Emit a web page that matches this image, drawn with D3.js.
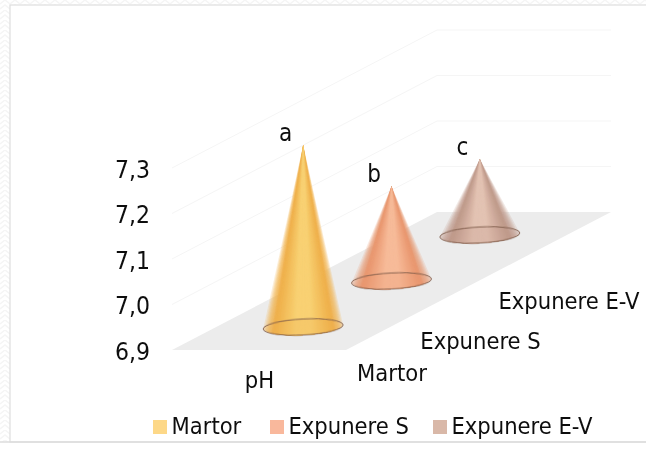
<!DOCTYPE html>
<html><head><meta charset="utf-8">
<script src="https://cdn.jsdelivr.net/npm/d3@7/dist/d3.min.js"></script>
<style>
html,body{margin:0;padding:0;background:#fff}
svg{display:block}
text{font-family:"DejaVu Sans Condensed","DejaVu Sans",sans-serif;fill:#111}
</style></head><body><svg id="c" width="646" height="455"></svg>
<script>
const categories = ["Martor","Expunere S","Expunere E-V"];
const values = [7.30,7.108,7.067];
const letters = ["a","b","c"];
const yTicks = [6.9,7.0,7.1,7.2,7.3];
const seriesLabel = "pH";
const centerColors = ["#f9d274","#f8bb9a","#e4c4b4"];
const sideColors = ["#efae48","#e8946c","#bd9788"];
const swatchColors = ["#fdd888","#f9b89c","#d9b8a8"];

const svg = d3.select("#c");
const W=646,H=455;
const loc = d3.formatLocale({decimal:",",thousands:".",grouping:[3],currency:["",""]});
const fmt = loc.format(".1f");

const defs = svg.append("defs");
const pat = defs.append("pattern").attr("id","zig").attr("width",10).attr("height",10).attr("patternUnits","userSpaceOnUse");
pat.append("path").attr("d","M0 4L5 0L10 4M0 9L5 5L10 9").attr("fill","none").attr("stroke","#f5f5f5").attr("stroke-width",1.5);
defs.append("filter").attr("id","soft").append("feGaussianBlur").attr("stdDeviation",0.45);
defs.append("filter").attr("id","soft2").append("feGaussianBlur").attr("stdDeviation",0.7);

// page frame
svg.append("rect").attr("width",W).attr("height",442).attr("fill","url(#zig)");
svg.append("rect").attr("x",10).attr("y",5).attr("width",W).attr("height",437).attr("fill","#fff").attr("stroke","#dedede").attr("stroke-width",1.2);
svg.append("line").attr("x1",0).attr("x2",W).attr("y1",442).attr("y2",442).attr("stroke","#dcdcdc").attr("stroke-width",1.4);

// 3D projection built from scales
const yScale = d3.scaleLinear().domain([6.9,7.3]).range([350,168]);
const depth = d3.scaleBand().domain(categories).range([0,1]);       // 0 front .. 1 back
const dx = d3.scaleLinear().domain([0,1]).range([0,265]);
const dy = d3.scaleLinear().domain([0,1]).range([0,-138]);
const frontX = d3.scaleLinear().domain([0,1]).range([172,346]);
const P=(u,t,v)=>[frontX(u)+dx(t), yScale(v)+dy(t)];
const line = d3.line();

const chart = svg.append("g");
// floor
chart.append("path").attr("d",line([P(0,0,6.9),P(1,0,6.9),P(1,1,6.9),P(0,1,6.9)])+"Z").attr("fill","#ececec").attr("filter","url(#soft)");
// gridlines
chart.selectAll("path.grid").data(yTicks.slice(1)).join("path").attr("class","grid")
  .attr("d",v=>line([P(0,0,v),P(0,1,v),P(1,1,v)])).attr("fill","none").attr("stroke","#f5f5f5").attr("stroke-width",1);

// cones
const rx=40, ry=8, tilt=-3;
categories.forEach((cat,i)=>{
  const t=depth(cat)+depth.bandwidth()/2;
  const [cx,cy]=P(0.5,t,6.9);
  const top=P(0.5,t,values[i]);
  const g=chart.append("g");
  const color=d3.scaleLinear().domain([0,0.22,0.8,1]).range([centerColors[i],centerColors[i],sideColors[i],sideColors[i]]).interpolate(d3.interpolateRgb);
  const tiltRad=tilt*Math.PI/180;
  const rim=s=>{
    const a=Math.acos(s);
    const ex=rx*Math.cos(a), ey=ry*Math.sin(a);
    return [cx+ex*Math.cos(tiltRad)-ey*Math.sin(tiltRad), cy+ex*Math.sin(tiltRad)+ey*Math.cos(tiltRad)];
  };
  const sl=g.append("g").attr("filter","url(#soft2)");
  const n=40;
  d3.range(n).forEach(k=>{
    const s=1-k/n;                       // outermost wedge first
    const pts=[top].concat(d3.range(0,13).map(j=>rim(-s+2*s*j/12)));
    sl.append("path").attr("d",line(pts)+"Z")
      .attr("fill",color(s))
      .attr("opacity",s>0.8?0.2:0.5);
  });
  g.append("ellipse").attr("cx",cx).attr("cy",cy).attr("rx",rx).attr("ry",ry)
    .attr("transform",`rotate(${tilt} ${cx} ${cy})`)
    .attr("fill",sideColors[i]).attr("fill-opacity",0.22)
    .attr("stroke","#7d5a48").attr("stroke-width",0.9).attr("filter","url(#soft)");
  g.append("text").attr("x",top[0]-17.5).attr("y",top[1]-4).attr("text-anchor","middle")
    .attr("font-size",24).attr("filter","url(#soft)").text(letters[i]);
});

const txt=svg.append("g").attr("filter","url(#soft)");
// y axis
const ax=d3.axisLeft(yScale).tickValues(yTicks).tickFormat(fmt).tickSize(0).tickPadding(22);
const axG=txt.append("g").attr("transform","translate(172,0.5)").call(ax);
axG.select(".domain").remove();
axG.selectAll("text").attr("font-size",24.5).attr("dy","0.36em");

// category labels
const catPos=[[392,381],[480.5,349],[569,309]];
txt.selectAll("text.cat").data(categories).join("text").attr("class","cat")
  .attr("x",(d,i)=>catPos[i][0]).attr("y",(d,i)=>catPos[i][1]).attr("text-anchor","middle")
  .attr("font-size",23.5).text(d=>d);
txt.append("text").attr("x",259.5).attr("y",388).attr("text-anchor","middle").attr("font-size",23.5).text(seriesLabel);

// legend
const legX=[153,270,433];
const leg=txt.selectAll("g.leg").data(categories).join("g").attr("class","leg")
  .attr("transform",(d,i)=>`translate(${legX[i]},420)`);
leg.append("rect").attr("width",14).attr("height",14).attr("fill",(d,i)=>swatchColors[i]);
leg.append("text").attr("x",18.5).attr("y",14).attr("font-size",23.5).text(d=>d);
</script></body></html>
